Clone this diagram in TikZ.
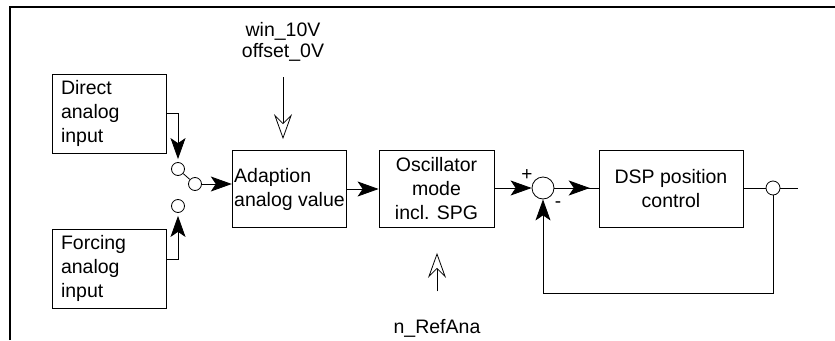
\documentclass[tikz,border=0pt]{standalone}
\usepackage{fontspec}
\setmainfont{Liberation Sans}
\usetikzlibrary{arrows.meta,decorations.markings}

\begin{document}
\begin{tikzpicture}[x=1pt, y=-1pt,
    every node/.style={font=\fontsize{19.5}{24}\selectfont},
    block/.style={draw, line width=0.8pt, inner ysep=0pt, minimum height=77pt},
    contact/.style={draw, circle, line width=0.8pt, inner sep=0pt, minimum size=13pt},
    sig/.style={line width=0.8pt, -{Stealth[length=21pt, width=15pt, inset=5pt]}},
    param/.style={line width=0.8pt, -{Stealth[open, length=25pt, width=18pt, inset=9pt]}},
    midsig/.style={line width=0.8pt, postaction={decorate},
        decoration={markings, mark=at position 0.8 with {\arrow{Stealth[length=21pt, width=15pt, inset=5pt]}}}}]
    \useasboundingbox (0,0) rectangle (835,340);
    \draw[line width=1.2pt] (10,340) -- (10,7) -- (835,7);

    \node[block, align=left, text width=96pt, inner xsep=9pt, minimum height=79pt] (direct) at (109,113.5) {Direct\\analog\\input};
    \node[block, align=left, text width=96pt, inner xsep=9pt, minimum height=79pt] (forcing) at (109,268.5) {Forcing\\analog\\input};
    \node[block, align=left, inner xsep=2pt] (adapt) at (289.5,189) {Adaption\\analog value};
    \node[block, align=center, minimum width=115pt] (osc) at (436.5,189) {Oscillator\\mode\\incl. SPG};
    \node[block, align=center, minimum width=144pt] (dsp) at (671,189) {DSP position\\control};

    \node[contact] (c1) at (178,169) {};
    \node[contact] (c2) at (195,184) {};
    \node[contact] (c3) at (178,206) {};
    \node[contact, minimum size=22pt] (sum) at (543,188) {};
    \node[contact, minimum size=14pt] (outc) at (773,188) {};
    \coordinate (out) at (798,188);
    \coordinate (fb) at (543,293);

    \node[align=center, font=\fontsize{19.5}{21}\selectfont] (win) at (283,42) {win\_10V\\offset\_0V};
    \node (ref) at (437,328) {n\_RefAna};
    \node[font=\fontsize{19}{19}\selectfont] at (527,175) {+};
    \node[font=\fontsize{19}{19}\selectfont] at (558,205) {-};

    \draw[sig, shorten >=3pt] (direct.east) -| (c1.north);
    \draw[sig, shorten >=3pt] ([yshift=9.5pt]forcing.east) -| (c3.south);
    \draw[line width=0.8pt] (c1) -- (c2);
    \draw[sig] (c2.east) -- (c2.east -| adapt.west);
    \draw[sig] (adapt.east) -- (osc.west);
    \draw[sig] (osc.east |- sum.west) -- (sum.west);
    \draw[midsig] (sum.east) -- (sum.east -| dsp.west);
    \draw[line width=0.8pt] (dsp.east |- outc.west) -- (outc.west);
    \draw[line width=0.8pt] (outc.east) -- (out);
    \draw[sig] (outc.south) |- (fb) -- (sum.south);

    \draw[param, shorten <=12pt, shorten >=11pt] (win.south) -- (win.south |- adapt.north);
    \draw[param, shorten <=24pt, shorten >=25pt] (ref.north) -- (ref.north |- osc.south);
\end{tikzpicture}
\end{document}
